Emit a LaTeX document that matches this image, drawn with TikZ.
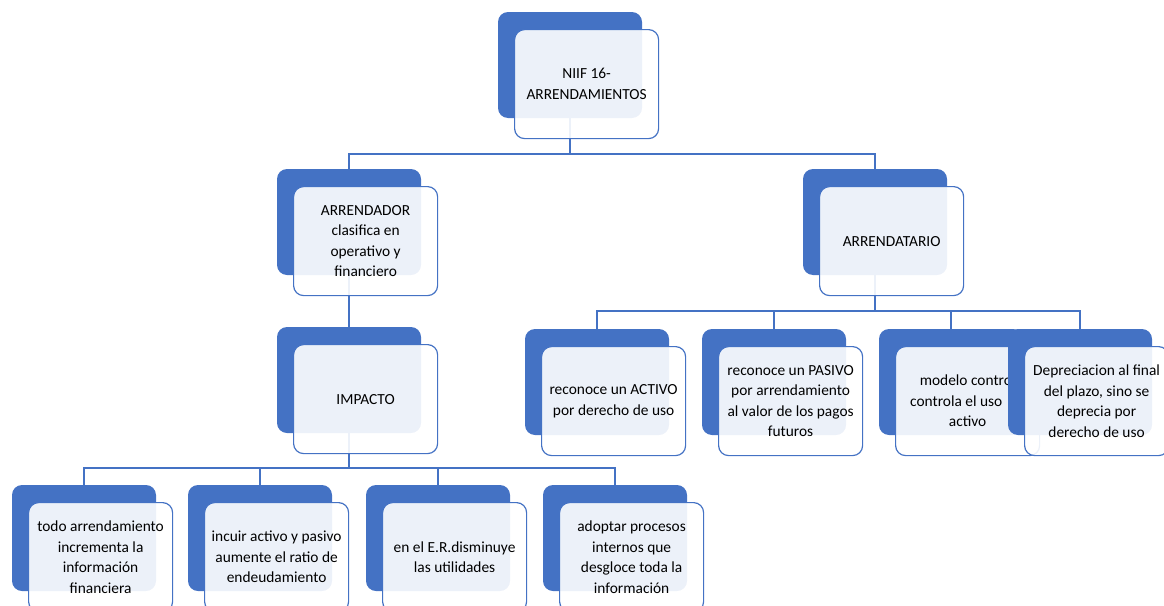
\documentclass[tikz,border=0pt]{standalone}
\usepackage{fontspec}
\setmainfont{Carlito}
\usetikzlibrary{backgrounds}
\definecolor{ablue}{HTML}{4472C4}
\newcommand\orgpair[4]{%
  \node[backbox] (#1) at (#2,#3) {};
  \node[frontbox] (#1f) at ({#2+16},{#3+17}) {#4};}
\begin{document}
\begin{tikzpicture}[x=1pt,y=-1pt,
  backbox/.style={draw=none, fill=ablue, rounded corners=10pt, minimum width=144pt, minimum height=106pt, anchor=north west, inner sep=0pt, outer sep=0pt},
  frontbox/.style={draw=ablue, line width=1.2pt, fill=white, fill opacity=0.9, text opacity=1, rounded corners=10pt, minimum width=144pt, minimum height=109pt, anchor=north west, align=center, inner sep=2pt, font=\fontsize{15.4}{20.5}\selectfont, text=black},
  conn/.style={draw=ablue, line width=1.3pt}]
\useasboundingbox (0,0) rectangle (1164,605);
\clip (0,0) rectangle (1164,605);

\orgpair{top}{498}{12}{NIIF 16-\\ARRENDAMIENTOS}
\orgpair{ardor}{277}{169}{ARRENDADOR\\clasifica en\\operativo y\\financiero}
\orgpair{ario}{803}{169}{ARRENDATARIO}
\orgpair{imp}{277}{327}{IMPACTO}
\orgpair{ra}{525}{329}{reconoce un ACTIVO\\por derecho de uso}
\orgpair{rb}{702}{329}{reconoce un PASIVO\\por arrendamiento\\al valor de los pagos\\futuros}
\orgpair{rc}{879}{329}{modelo control\\controla el uso\hphantom{ del}\\activo}
\orgpair{rd}{1008}{329}{Depreciacion al final\\del plazo, sino se\\deprecia por\\derecho de uso}
\orgpair{ba}{12}{485}{todo arrendamiento\\incrementa la\\información\\financiera}
\orgpair{bb}{188}{485}{incuir activo y pasivo\\aumente el ratio de\\endeudamiento}
\orgpair{bc}{366}{485}{en el E.R.disminuye\\las utilidades}
\orgpair{bd}{543}{485}{adoptar procesos\\internos que\\desgloce toda la\\información}

\begin{scope}[on background layer]
\draw[conn] (top.south) -- ++(0,36) -| (ardor.north);
\draw[conn] (top.south) -- ++(0,36) -| (ario.north);
\draw[conn] (ardor.south) -- (imp.north);
\foreach \c in {ra,rb,rc,rd} \draw[conn] (ario.south) -- ++(0,36) -| (\c.north);
\foreach \c in {ba,bb,bc,bd} \draw[conn] (imp.south) -- ++(0,35) -| (\c.north);
\end{scope}
\end{tikzpicture}
\end{document}
